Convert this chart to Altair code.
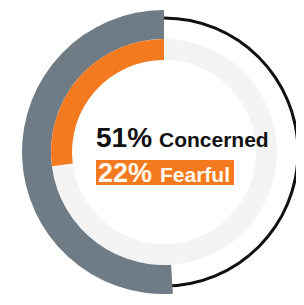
import altair as alt
import pandas as pd

# values
series = ["Concerned", "Fearful"]
label_pct = ["51%", "22%"]          # headline numbers
arc_share = [0.51, 0.27]            # drawn extent of each ring (fraction of circle)

GRAY = "#6F7C85"
ORANGE = "#F37A1F"
LIGHT = "#F4F4F4"
BLACK = "#111111"

CX, CY = 156, 144
sc = alt.Scale(domain=[0, 1], range=[0, 6.283185307179586])

rings = pd.DataFrame({
    "series": series,
    "start": [1 - s for s in arc_share],
    "end": [1.0, 1.0],
})
full = pd.DataFrame({"start": [0.0], "end": [1.0]})

def ring(data, r, r2, color):
    return alt.Chart(data).mark_arc(radius=r, radius2=r2, color=color).encode(
        theta=alt.Theta("start:Q", scale=sc),
        theta2="end:Q",
        x=alt.value(CX), y=alt.value(CY),
    )

bg = ring(full, 113, 92, LIGHT)
outline = ring(full, 135.5, 132.5, BLACK)
gray = ring(rings[rings.series == "Concerned"], 142, 113, GRAY)
orange = ring(rings[rings.series == "Fearful"], 113, 92, ORANGE)

box = alt.Chart(pd.DataFrame({"a": [0]})).mark_rect(color=ORANGE).encode(
    x=alt.value(88), x2=alt.value(226), y=alt.value(152), y2=alt.value(177)
)

def txt(text, x, y, size, color):
    return alt.Chart(pd.DataFrame({"t": [text]})).mark_text(
        align="left", baseline="alphabetic", font="Liberation Sans",
        fontWeight="bold", fontSize=size, color=color,
    ).encode(text="t:N", x=alt.value(x), y=alt.value(y))

t1 = txt(label_pct[0], 88, 139, 28, BLACK)
t2 = txt(series[0], 151, 139, 21, BLACK)
t3 = txt(label_pct[1], 90, 174, 27, "#FFF8EE")
t4 = txt(series[1], 152, 174, 21, "#FFF8EE")

chart = alt.layer(bg, outline, gray, orange, box, t1, t2, t3, t4).properties(
    width=288, height=289, padding=0, autosize="none"
).configure_view(stroke=None)

chart.save("out.html", embed_options={"renderer": "svg", "actions": False})
